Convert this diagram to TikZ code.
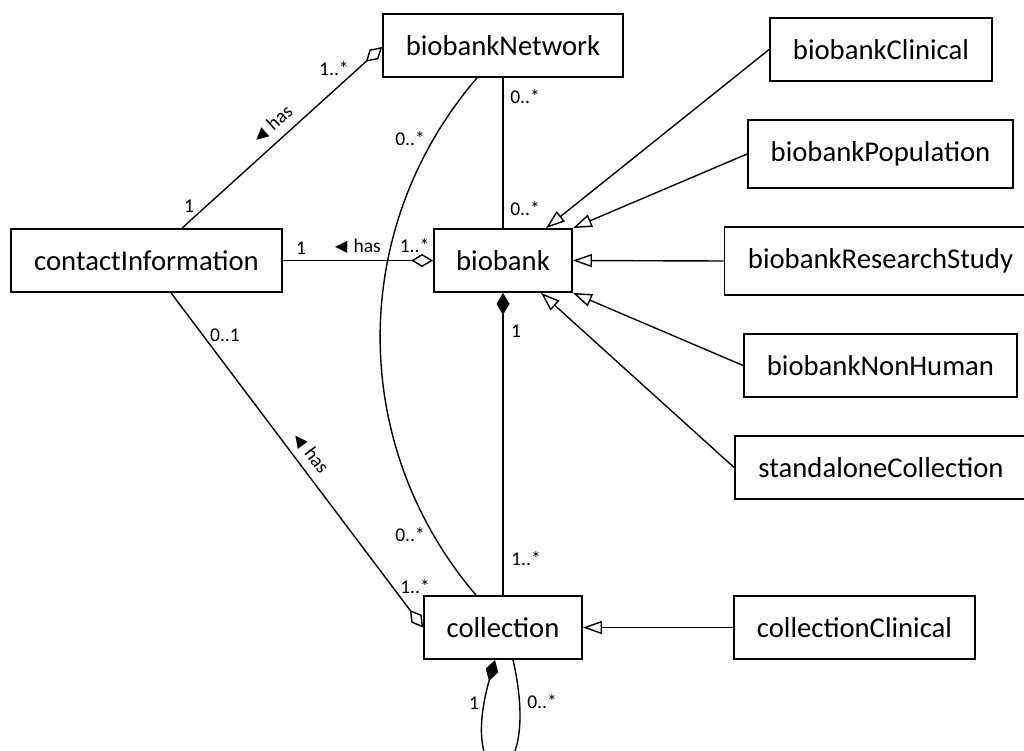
\documentclass[tikz,border=0pt]{standalone}
\usepackage{fontspec}
\setmainfont{Carlito}
\newfontfamily\symfnt{DejaVu Sans}
\usetikzlibrary{arrows.meta}
\newcommand{\hasL}{\raisebox{0.5pt}{\symfnt\fontsize{16}{16}\selectfont ◀}\hspace{6pt}has}
\tikzset{
  cls/.style={draw=black, line width=1.8pt, fill=white, minimum height=63pt, inner sep=0pt, font=\fontsize{28.7}{30}\selectfont},
  conn/.style={line width=1.4pt, draw=black},
  gen/.style={conn, -{Triangle[open, length=19pt, width=13pt]}},
  agg/.style={conn, -{Diamond[open, length=22pt, width=13pt]}},
  comp/.style={conn, {Diamond[length=22pt, width=13pt]}-},
  lbl/.style={inner sep=0pt, font=\fontsize{19.5}{20}\selectfont},
}
\begin{document}
\begin{tikzpicture}[x=1pt, y=-1pt]
\useasboundingbox (0,0) rectangle (1024,751);
% classes
\node[cls, minimum width=240pt] (bn) at (503,45.5) {biobankNetwork};
\node[cls, minimum width=222pt] (bc) at (881,49.5) {biobankClinical};
\node[cls, minimum width=265pt, minimum height=68pt] (bp) at (880.5,154) {biobankPopulation};
\node[cls, minimum width=271pt] (ci) at (146.5,260.5) {contactInformation};
\node[cls, minimum width=138pt] (bb) at (503,260.5) {biobank};
\node[cls, minimum width=312pt, minimum height=68pt] (brs) at (880.5,261) {biobankResearchStudy};
\node[cls, minimum width=273pt] (bnh) at (880.5,365.5) {biobankNonHuman};
\node[cls, minimum width=292pt] (sc) at (881,467.5) {standaloneCollection};
\node[cls, minimum width=158pt] (col) at (503,627.5) {collection};
\node[cls, minimum width=241pt] (cc) at (854.5,627.5) {collectionClinical};
% associations
\draw[agg] ([xshift=35.5pt]ci.north) -- ([yshift=-1.5pt]bn.west);
\draw[agg] (ci.east) -- (bb.west);
\draw[agg] ([xshift=24.5pt]ci.south) -- (col.west);
\draw[conn] (bn.south) -- (bb.north);
\draw[conn] ([xshift=-26pt]bn.south) .. controls +(-129,150) and +(-128,-150) .. ([xshift=-27pt]col.north);
\draw[comp] (bb.south) -- (col.north);
\draw[comp] ([xshift=-8pt]col.south) .. controls +(-40,141) and +(32,141) .. ([xshift=10pt]col.south);
% generalizations
\draw[gen] (bc.west) -- ([xshift=43pt]bb.north);
\draw[gen] (bp.west) -- (bb.north east);
\draw[gen] (brs.west) -- (bb.east);
\draw[gen] (bnh.west) -- (bb.south east);
\draw[gen] (sc.west) -- ([xshift=38pt]bb.south);
\draw[gen] (cc.west) -- (col.east);
% labels
\node[lbl] (m1) at (189,206) {1};
\node[lbl] (m2) at (334,69) {1..*};
\node[lbl, rotate=42] (h1) at (273,124) {\hasL};
\node[lbl] (m3) at (525,97) {0..*};
\node[lbl] (m4) at (525,209) {0..*};
\node[lbl] (m5) at (410,139) {0..*};
\node[lbl] (m6) at (301,248) {1};
\node[lbl] (h2) at (358,246) {\hasL};
\node[lbl] (m7) at (414.5,246) {1..*};
\node[lbl] (m8) at (516,331) {1};
\node[lbl] (m9) at (225,335) {0..1};
\node[lbl, rotate=-53] (h3) at (311,453) {\hasL};
\node[lbl] (m10) at (410,535) {0..*};
\node[lbl] (m11) at (415,587) {1..*};
\node[lbl] (m12) at (526,559) {1..*};
\node[lbl] (m13) at (474,703) {1};
\node[lbl] (m14) at (542,702) {0..*};
\end{tikzpicture}
\end{document}
